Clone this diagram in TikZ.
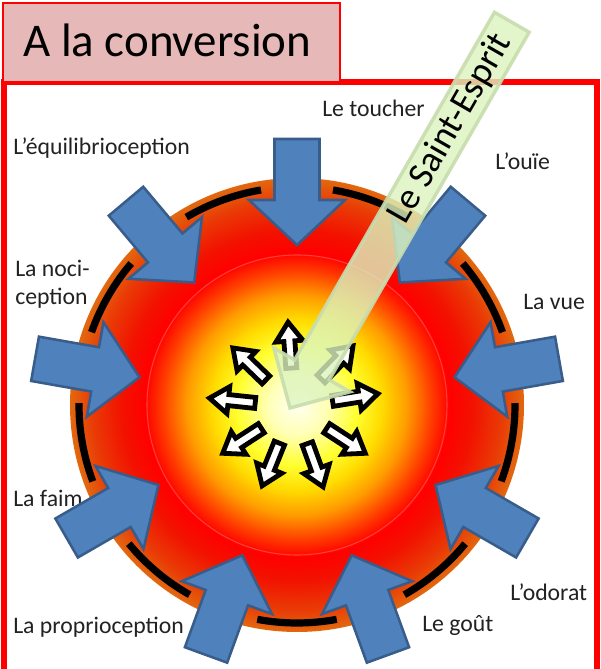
\documentclass[tikz,border=0pt]{standalone}
\usepackage{fontspec}
\setmainfont{Carlito}
\usetikzlibrary{arrows.meta,positioning}
\definecolor{convInk}{HTML}{222222}
\definecolor{convRed}{HTML}{FF0000}
\definecolor{convPink}{HTML}{E6B9B8}
\definecolor{convBlue}{HTML}{4F81BD}
\definecolor{convBlueDark}{HTML}{385D8A}
\definecolor{convGreen}{HTML}{DDF4BF}
\definecolor{convGreenDark}{HTML}{C8DDAE}
\definecolor{glowA}{HTML}{FFFFF2}
\definecolor{glowB}{HTML}{FFFFB4}
\definecolor{glowC}{HTML}{FFFF30}
\definecolor{glowD}{HTML}{FFDC00}
\definecolor{glowE}{HTML}{FF9C00}
\definecolor{glowF}{HTML}{FF3C00}
\definecolor{glowG}{HTML}{FF0000}
\definecolor{glowH}{HTML}{F21200}
\definecolor{glowJ}{HTML}{E93C06}
\definecolor{glowI}{HTML}{E2680F}
\pgfdeclareradialshading{convGlow}{\pgfpointorigin}{%
  color(0bp)=(glowA); color(3.3bp)=(glowB); color(6.6bp)=(glowC);
  color(9.35bp)=(glowD); color(12.1bp)=(glowE); color(14.85bp)=(glowF);
  color(16.8bp)=(glowG); color(19.3bp)=(glowH); color(22.6bp)=(glowJ);
  color(25bp)=(glowI); color(50bp)=(glowI)}
\tikzset{
  conv label/.style={font=\fontsize{17.8}{21}\selectfont, text=convInk,
    anchor=base west, inner sep=0pt},
  conv title/.style={draw=convRed, fill=convPink, line width=1.6pt},
  conv frame/.style={draw=convRed, line width=3.8pt},
  conv ring/.style={draw=black, line width=5.4pt},
  conv sense/.style={fill=convBlue, draw=convBlueDark, line width=1.9pt,
    line join=miter},
  conv burst/.style={fill=white, draw=black, line width=3.6pt, line join=miter},
  conv beam/.style={fill=convGreen, fill opacity=0.8, draw=convGreenDark,
    draw opacity=0.9, line width=2.6pt}
}

\begin{document}
\begin{tikzpicture}[x=0.75pt,y=0.75pt]
  \useasboundingbox (0,0) rectangle (601,669);
  \fill[white] (0,0) rectangle (601,669);
  \clip (0,0) rectangle (601,669);
  % frame and title
  \draw[conv frame] (4,587) rectangle (597,-20);
  \draw[conv title] (3,666) rectangle (340,587);
  \node[conv label, font=\fontsize{35.2}{40}\selectfont, text=black] (title)
    at (23,612) {A la conversion};
  % the fire
  \shade[shading=convGlow] (297,264) circle (227);
  \draw[convRed!55!white, line width=0.8pt, opacity=0.5] (297,264) circle (150);
  \foreach \a in {90,130,...,410}
    \draw[conv ring, shift={(297,264)}] (\a+9.5:218)
      arc[start angle=\a+9.5, end angle=\a+30.5, radius=218];
  % senses
  \node[conv label] (toucher) at (322,552) {Le toucher};
  \node[conv label] (equi) at (13,514) {L’équilibrioception};
  \node[conv label] (ouie) at (495,499) {L’ouïe};
  \node[conv label, align=left, anchor=north west] (noci) at (15,409) {La noci-\\ception};
  \node[conv label] (vue) at (523,359) {La vue};
  \node[conv label] (faim) at (13,162) {La faim};
  \node[conv label] (odorat) at (510,69) {L’odorat};
  \node[conv label] (gout) at (422,37) {Le goût};
  \node[conv label] (proprio) at (13,36) {La proprioception};
  \foreach \a in {90,130,...,410} {
    \begin{scope}[shift={(297,264)}, rotate=\a]
      \draw[conv sense] (266,22.5) -- (205,22.5) -- (205,48) -- (160,0)
        -- (205,-48) -- (205,-22.5) -- (266,-22.5) -- cycle;
    \end{scope}
  }
  % inner burst
  \foreach \a in {94,136,174,213,248,290,327,9,46} {
    \begin{scope}[shift={(294,262)}, rotate=\a]
      \draw[conv burst] (39,5.5) -- (66,5.5) -- (66,13.5) -- (85,0)
        -- (66,-13.5) -- (66,-5.5) -- (39,-5.5) -- cycle;
    \end{scope}
  }
  % the beam
  \begin{scope}[shift={(290,261)}, rotate=60.1]
    \draw[conv beam] (0,0) -- (44,44) -- (44,20) -- (445,20) -- (445,-20)
      -- (44,-20) -- (44,-44) -- cycle;
  \end{scope}
  \node[font=\fontsize{27.7}{32}\selectfont, text=black, rotate=60.1,
    inner sep=0pt] (esprit) at (450.5,540.2) {Le Saint-Esprit};
\end{tikzpicture}
\end{document}
